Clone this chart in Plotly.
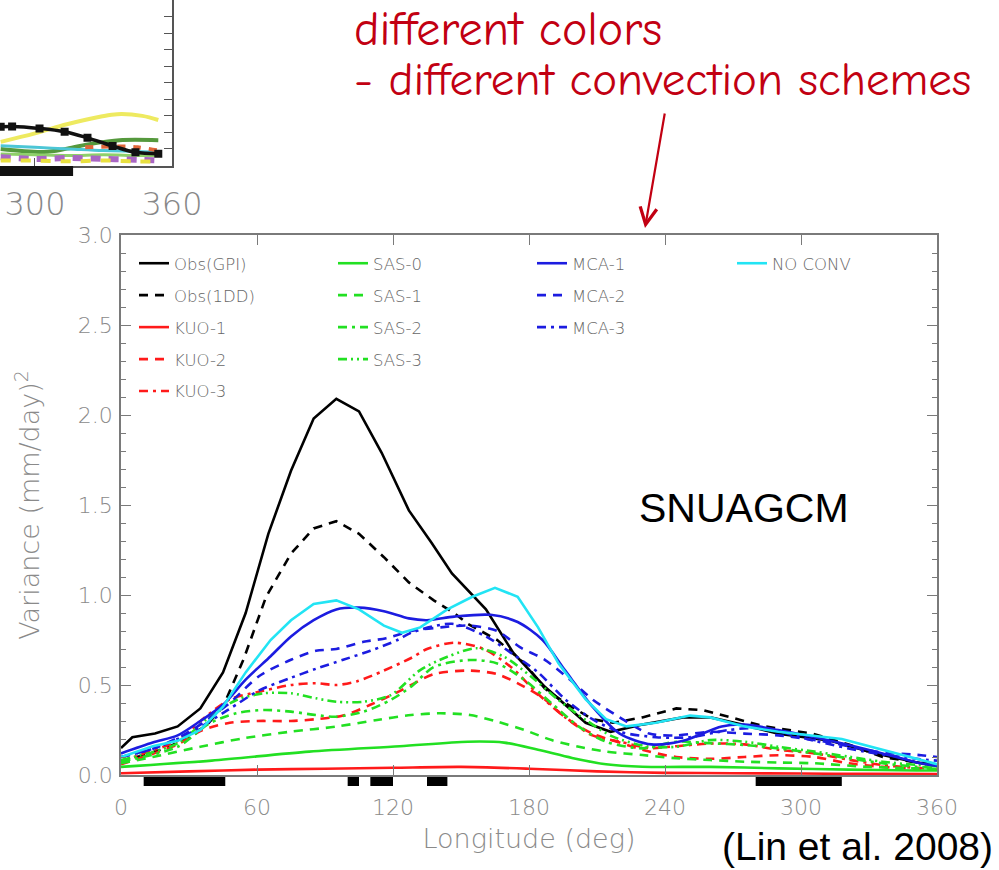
import plotly.graph_objects as go

# ---------------- data ----------------
OBS_GPI_X = [0, 5, 15, 25, 35, 45, 55, 65, 75, 85, 95, 105, 115, 127, 137, 146, 161, 173, 187, 205, 216, 230, 248, 260, 274, 290, 313, 333, 351, 360]
OBS_GPI_Y = [0.15, 0.21, 0.23, 0.27, 0.37, 0.57, 0.90, 1.34, 1.69, 1.98, 2.09, 2.02, 1.79, 1.47, 1.29, 1.12, 0.92, 0.68, 0.49, 0.29, 0.24, 0.28, 0.32, 0.32, 0.28, 0.23, 0.19, 0.12, 0.07, 0.05]

OBS_1DD_X = [0, 10, 20, 30, 38, 45, 54, 64, 75, 85, 95, 105, 116, 127, 138, 147, 153, 166, 178, 187, 196, 208, 217, 230, 245, 257, 269, 284, 305, 321, 336, 351, 360]
OBS_1DD_Y = [0.08, 0.11, 0.15, 0.21, 0.28, 0.38, 0.64, 0.99, 1.23, 1.37, 1.41, 1.34, 1.21, 1.07, 0.97, 0.90, 0.84, 0.75, 0.62, 0.48, 0.40, 0.31, 0.29, 0.32, 0.37, 0.36, 0.32, 0.27, 0.23, 0.17, 0.10, 0.07, 0.06]

KUO1_X = [0, 30, 60, 90, 120, 150, 180, 210, 240, 270, 300, 330, 360]
KUO1_Y = [0.01, 0.02, 0.03, 0.035, 0.04, 0.045, 0.035, 0.02, 0.012, 0.01, 0.008, 0.006, 0.005]

KUO2_X = [0, 10, 25, 36, 48, 60, 75, 86, 98, 110, 122, 138, 154, 166, 178, 187, 196, 208, 220, 233, 245, 260, 275, 290, 306, 321, 336, 351, 360]
KUO2_Y = [0.06, 0.10, 0.17, 0.25, 0.29, 0.30, 0.30, 0.31, 0.33, 0.39, 0.46, 0.56, 0.58, 0.56, 0.49, 0.42, 0.32, 0.23, 0.18, 0.13, 0.10, 0.09, 0.10, 0.11, 0.10, 0.065, 0.045, 0.035, 0.03]

KUO3_X = [0, 10, 25, 36, 48, 60, 75, 86, 95, 104, 116, 128, 135, 147, 160, 172, 184, 196, 208, 220, 233, 245, 260, 275, 290, 306, 321, 336, 351, 360]
KUO3_Y = [0.07, 0.12, 0.19, 0.31, 0.42, 0.46, 0.50, 0.51, 0.50, 0.52, 0.58, 0.65, 0.70, 0.735, 0.70, 0.60, 0.45, 0.32, 0.22, 0.185, 0.15, 0.16, 0.175, 0.17, 0.14, 0.12, 0.085, 0.055, 0.04, 0.035]

SAS0_X = [0, 40, 83, 123, 153, 169, 184, 199, 214, 230, 260, 290, 321, 351, 360]
SAS0_Y = [0.045, 0.08, 0.13, 0.16, 0.185, 0.18, 0.14, 0.095, 0.06, 0.046, 0.045, 0.037, 0.03, 0.025, 0.025]

SAS1_X = [0, 14, 35, 54, 75, 95, 113, 128, 141, 154, 166, 178, 190, 202, 214, 230, 245, 260, 275, 290, 306, 328, 351, 360]
SAS1_Y = [0.065, 0.10, 0.157, 0.204, 0.241, 0.269, 0.306, 0.333, 0.343, 0.333, 0.296, 0.25, 0.194, 0.157, 0.13, 0.111, 0.093, 0.083, 0.074, 0.069, 0.065, 0.046, 0.037, 0.035]

SAS2_X = [0, 25, 39, 51, 63, 75, 86, 95, 107, 119, 128, 138, 154, 166, 178, 190, 202, 214, 230, 245, 260, 275, 290, 306, 321, 336, 351, 360]
SAS2_Y = [0.074, 0.157, 0.287, 0.343, 0.361, 0.352, 0.333, 0.324, 0.352, 0.417, 0.491, 0.60, 0.639, 0.62, 0.528, 0.398, 0.269, 0.185, 0.148, 0.185, 0.176, 0.167, 0.148, 0.12, 0.093, 0.065, 0.046, 0.04]

SAS3_X = [0, 25, 39, 51, 63, 75, 86, 95, 107, 119, 132, 144, 157, 169, 181, 193, 205, 217, 233, 245, 260, 275, 290, 306, 321, 336, 351, 360]
SAS3_Y = [0.083, 0.176, 0.324, 0.417, 0.454, 0.454, 0.426, 0.407, 0.407, 0.444, 0.583, 0.657, 0.704, 0.657, 0.546, 0.417, 0.306, 0.213, 0.157, 0.157, 0.194, 0.185, 0.157, 0.13, 0.102, 0.074, 0.056, 0.05]

MCA1_X = [0, 14, 25, 35, 45, 55, 66, 75, 85, 95, 105, 116, 127, 135, 147, 163, 175, 186, 196, 208, 220, 234, 248, 265, 275, 290, 313, 336, 351, 360]
MCA1_Y = [0.12, 0.18, 0.22, 0.30, 0.39, 0.53, 0.66, 0.77, 0.86, 0.92, 0.93, 0.91, 0.87, 0.86, 0.88, 0.89, 0.85, 0.75, 0.58, 0.38, 0.23, 0.17, 0.19, 0.27, 0.28, 0.25, 0.19, 0.12, 0.07, 0.05]

MCA2_X = [0, 15, 30, 47, 61, 75, 86, 95, 107, 117, 128, 141, 154, 166, 176, 187, 198, 208, 220, 233, 245, 260, 275, 290, 313, 333, 353, 360]
MCA2_Y = [0.10, 0.15, 0.24, 0.39, 0.55, 0.64, 0.69, 0.70, 0.74, 0.76, 0.80, 0.82, 0.83, 0.80, 0.71, 0.64, 0.53, 0.42, 0.32, 0.23, 0.22, 0.24, 0.23, 0.22, 0.18, 0.13, 0.11, 0.10]

MCA3_X = [0, 15, 30, 47, 61, 75, 86, 98, 110, 122, 128, 146, 161, 173, 184, 196, 208, 220, 236, 251, 268, 283, 306, 328, 351, 360]
MCA3_Y = [0.10, 0.15, 0.23, 0.36, 0.47, 0.54, 0.59, 0.64, 0.69, 0.75, 0.79, 0.84, 0.77, 0.67, 0.57, 0.42, 0.31, 0.24, 0.21, 0.21, 0.25, 0.26, 0.19, 0.13, 0.09, 0.08]

NOCONV_X = [0, 14, 25, 35, 45, 55, 66, 75, 85, 95, 105, 116, 124, 132, 144, 155, 165, 175, 184, 193, 205, 214, 223, 236, 251, 260, 275, 290, 318, 336, 354, 360]
NOCONV_Y = [0.10, 0.16, 0.19, 0.25, 0.38, 0.57, 0.75, 0.86, 0.95, 0.97, 0.92, 0.83, 0.79, 0.82, 0.92, 0.99, 1.04, 0.99, 0.82, 0.62, 0.42, 0.31, 0.27, 0.29, 0.33, 0.32, 0.27, 0.24, 0.20, 0.14, 0.08, 0.06]

# significance bars below the axis (start, end longitude)
BAR_START = [10, 100, 110, 135, 280]
BAR_END = [46, 105, 120, 144, 318]

X_TICKS = [0, 60, 120, 180, 240, 300, 360]

# partial neighbouring panel (top-left, cropped)
P_YEL_X = [285, 300, 314, 329, 336, 347, 354]
P_YEL_Y = [0.143, 0.194, 0.249, 0.296, 0.31, 0.30, 0.275]
P_BLK_X = [285, 290, 302, 313, 323, 334, 344, 354]
P_BLK_Y = [0.234, 0.236, 0.224, 0.204, 0.167, 0.118, 0.08, 0.071]
P_GRN_X = [285, 304, 314, 325, 337, 354]
P_GRN_Y = [0.10, 0.082, 0.102, 0.132, 0.153, 0.153]
P_CYN_X = [285, 300, 315, 330, 345, 354]
P_CYN_Y = [0.12, 0.11, 0.10, 0.09, 0.085, 0.08]
P_ORG_X = [322, 335, 345, 354]
P_ORG_Y = [0.11, 0.115, 0.11, 0.09]
P_LGN_X = [285, 300, 315, 330, 345, 354]
P_LGN_Y = [0.07, 0.065, 0.06, 0.065, 0.06, 0.06]
P_PUR_X = [285, 300, 315, 330, 345, 354]
P_PUR_Y = [0.05, 0.04, 0.045, 0.04, 0.035, 0.03]
P_YDS_X = [285, 300, 315, 330, 345, 354]
P_YDS_Y = [0.03, 0.03, 0.025, 0.03, 0.025, 0.025]
P_BAR = [284.7, 316.7]

# ---------------- styling ----------------
BLACK = "#000000"
RED = "#ff1a1a"
GREEN = "#22e022"
BLUE = "#1c1ce0"
CYAN = "#22e4f4"
DASH = "9px,7px"
DASHDOT = "9px,5px,3px,5px"
DASHDOTDOT = "9px,4px,2px,4px,2px,4px"

series = [
    ("Obs(GPI)", OBS_GPI_X, OBS_GPI_Y, BLACK, "solid", "linear", "legend"),
    ("Obs(1DD)", OBS_1DD_X, OBS_1DD_Y, BLACK, DASH, "linear", "legend"),
    ("KUO-1", KUO1_X, KUO1_Y, RED, "solid", "spline", "legend"),
    ("KUO-2", KUO2_X, KUO2_Y, RED, DASH, "spline", "legend"),
    ("KUO-3", KUO3_X, KUO3_Y, RED, DASHDOT, "spline", "legend"),
    ("SAS-0", SAS0_X, SAS0_Y, GREEN, "solid", "spline", "legend2"),
    ("SAS-1", SAS1_X, SAS1_Y, GREEN, DASH, "spline", "legend2"),
    ("SAS-2", SAS2_X, SAS2_Y, GREEN, DASHDOT, "spline", "legend2"),
    ("SAS-3", SAS3_X, SAS3_Y, GREEN, DASHDOTDOT, "spline", "legend2"),
    ("MCA-1", MCA1_X, MCA1_Y, BLUE, "solid", "spline", "legend3"),
    ("MCA-2", MCA2_X, MCA2_Y, BLUE, DASH, "spline", "legend3"),
    ("MCA-3", MCA3_X, MCA3_Y, BLUE, DASHDOT, "spline", "legend3"),
    ("NO CONV", NOCONV_X, NOCONV_Y, CYAN, "solid", "linear", "legend4"),
]

fig = go.Figure()

for name, xs, ys, col, dash, shape, leg in series:
    fig.add_trace(go.Scatter(
        x=xs, y=ys, name=name, mode="lines",
        line=dict(color=col, width=2.6, dash=dash, shape=shape, smoothing=0.8),
        legend=leg, legendgroup=name, xaxis="x", yaxis="y",
    ))

partial = [
    (P_YEL_X, P_YEL_Y, "#eeea60", "solid", 4, None),
    (P_GRN_X, P_GRN_Y, "#55993d", "solid", 4, None),
    (P_CYN_X, P_CYN_Y, "#4cc6d6", "solid", 3, None),
    (P_LGN_X, P_LGN_Y, "#8fd06a", "solid", 3, None),
    (P_ORG_X, P_ORG_Y, "#e0663a", "8px,8px", 4, None),
    (P_PUR_X, P_PUR_Y, "#a966c4", "10px,8px", 6, None),
    (P_YDS_X, P_YDS_Y, "#e8e040", "10px,10px", 4, None),
    (P_BLK_X, P_BLK_Y, "#111111", "solid", 3.5, "square"),
]
for xs, ys, col, dash, w, marker in partial:
    fig.add_trace(go.Scatter(
        x=xs, y=ys, mode="lines+markers" if marker else "lines",
        line=dict(color=col, width=w, dash=dash, shape="spline"),
        marker=dict(symbol="square", size=8, color=col) if marker else None,
        showlegend=False, xaxis="x2", yaxis="y2", hoverinfo="skip",
    ))

# ---------------- layout ----------------
W, H = 999, 870
def px(x):
    return x / W
def py(y):
    return 1 - y / H

AX = "#7a7a7a"
TXT = "#8a8a8a"
LIGHT = "DejaVu Sans"
TICKFONT = dict(family=LIGHT, size=22, color=TXT, weight=200)
TITLEFONT = dict(family=LIGHT, size=27, color=TXT, weight=200)

shapes = []
for s, e in zip(BAR_START, BAR_END):
    shapes.append(dict(type="rect", xref="x", yref="paper", x0=s, x1=e,
                       y0=py(786), y1=py(777), fillcolor="black", line=dict(width=0)))
shapes.append(dict(type="rect", xref="x2", yref="paper", x0=P_BAR[0], x1=P_BAR[1],
                   y0=py(176), y1=py(166), fillcolor="#111111", line=dict(width=0)))

legend_common = dict(
    orientation="v", xanchor="left", yanchor="top", bgcolor="rgba(0,0,0,0)",
    font=dict(family=LIGHT, size=16.5, color="#666666", weight=200), itemwidth=30,
    traceorder="grouped", tracegroupgap=7.5, borderwidth=0,
)
COLS = [134, 333, 532, 732]
LEG_TOP = 246

fig.update_layout(
    width=W, height=H, autosize=False,
    margin=dict(l=0, r=0, t=0, b=0, autoexpand=False),
    paper_bgcolor="white", plot_bgcolor="white",
    showlegend=True,
    legend=dict(x=px(COLS[0]), y=py(LEG_TOP), **legend_common),
    legend2=dict(x=px(COLS[1]), y=py(LEG_TOP), **legend_common),
    legend3=dict(x=px(COLS[2]), y=py(LEG_TOP), **legend_common),
    legend4=dict(x=px(COLS[3]), y=py(LEG_TOP), **legend_common),
    xaxis=dict(
        domain=[px(121), px(937)], range=[0, 360], tickvals=X_TICKS,
        ticks="inside", ticklen=10, tickcolor=AX, tickwidth=1,
        showline=True, linecolor=AX, linewidth=1.5, mirror="ticks",
        showgrid=False, zeroline=False, tickfont=TICKFONT, ticklabelstandoff=12,
        title=dict(text="Longitude (deg)", font=TITLEFONT, standoff=10),
        anchor="y", automargin=False,
    ),
    yaxis=dict(
        domain=[py(775), py(235)], range=[0, 3.0], dtick=0.5, tickformat=".1f",
        ticks="inside", ticklen=10, tickcolor=AX, tickwidth=1,
        minor=dict(dtick=0.1, ticks="inside", ticklen=5, tickcolor=AX),
        showline=True, linecolor=AX, linewidth=1.5, mirror="ticks",
        showgrid=False, zeroline=False, tickfont=TICKFONT, ticklabelstandoff=2,
        title=dict(text="Variance (mm/day)<sup>2</sup>", font=TITLEFONT, standoff=30),
        anchor="x", automargin=False,
    ),
    xaxis2=dict(
        domain=[0, px(172)], range=[284.7, 360], tickvals=[300, 360],
        ticks="inside", ticklen=8, tickcolor="#555", showline=True, linecolor="#555",
        linewidth=2, showgrid=False, zeroline=False, anchor="y2", automargin=False,
        tickfont=dict(family=LIGHT, size=32, color="#888", weight=200), ticklabelstandoff=9,
    ),
    yaxis2=dict(
        domain=[py(165.5), 1], range=[0, 1.0], dtick=0.1, side="right",
        ticks="inside", ticklen=8, tickcolor="#555", showline=True, linecolor="#555",
        linewidth=2, showgrid=False, zeroline=False, showticklabels=False, anchor="x2",
        automargin=False,
    ),
    shapes=shapes,
)

RED_TXT = "#c20012"
HAND = "Comic Sans MS, Comic Neue, Noto Sans, sans-serif"
fig.add_annotation(text="different colors", x=px(352), y=py(30), xref="paper", yref="paper",
                   xanchor="left", yanchor="middle", showarrow=False,
                   font=dict(family=HAND, size=48, color=RED_TXT))
fig.add_annotation(text="- different convection schemes", x=px(352), y=py(80), xref="paper", yref="paper",
                   xanchor="left", yanchor="middle", showarrow=False,
                   font=dict(family=HAND, size=47, color=RED_TXT))
fig.add_annotation(text="", x=px(645), y=py(228), xref="paper", yref="paper",
                   ax=20, ay=-116, axref="pixel", ayref="pixel", showarrow=True,
                   arrowhead=5, arrowsize=1.5, arrowwidth=2.2, arrowcolor=RED_TXT)
fig.add_annotation(text="SNUAGCM", x=px(744), y=py(508), xref="paper", yref="paper",
                   xanchor="center", yanchor="middle", showarrow=False,
                   font=dict(family="Liberation Sans, Arial", size=41, color="black"))
fig.add_annotation(text="(Lin et al. 2008)", x=px(995), y=0.0, xref="paper", yref="paper",
                   xanchor="right", yanchor="bottom", showarrow=False,
                   font=dict(family="Liberation Sans, Arial", size=39, color="black"))

fig.write_html("out.html")
